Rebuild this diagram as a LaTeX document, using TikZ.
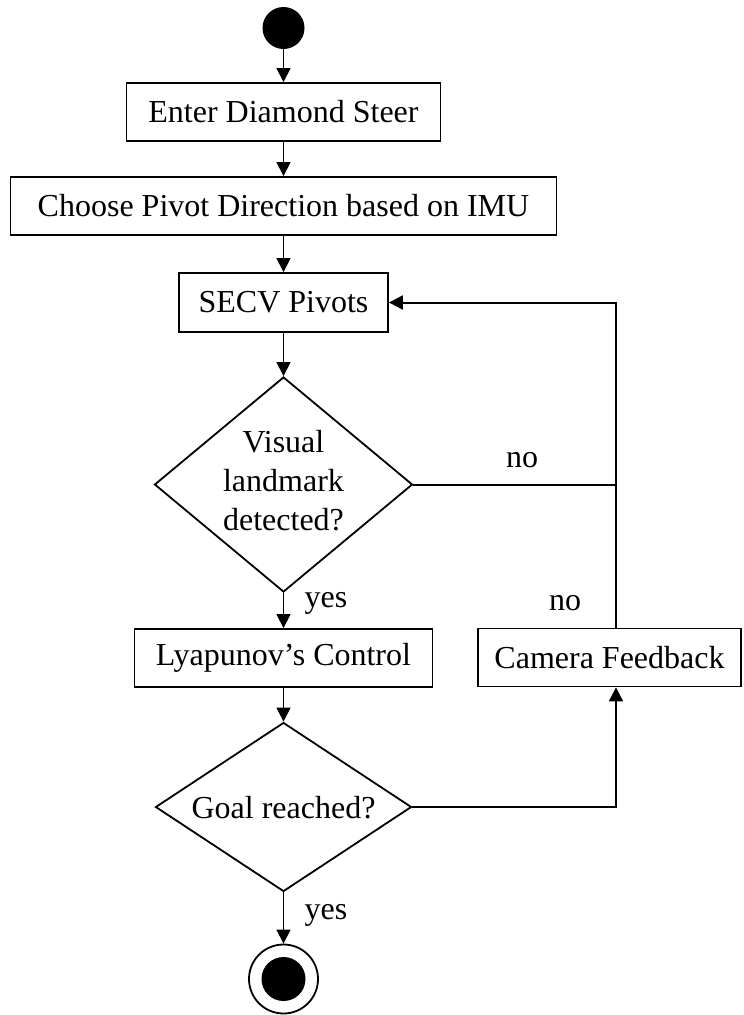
\documentclass[tikz,border=0pt]{standalone}
\usepackage{fontspec}
\setmainfont{Liberation Serif}
\usetikzlibrary{shapes.geometric,arrows.meta}
\begin{document}
\begin{tikzpicture}[x=1pt,y=-1pt,
  >={Triangle[length=14pt,width=14pt]},
  every node/.style={font=\fontsize{32}{39}\selectfont},
  box/.style={draw,line width=1.8pt,minimum height=58pt,inner sep=0pt,align=center},
  decision/.style={draw,diamond,line width=1.8pt,inner sep=0pt},
  flow/.style={line width=1.2pt,->},
  loopline/.style={line width=2pt},
  edgetext/.style={inner sep=0pt}]
\useasboundingbox (0,0) rectangle (744,1015);

% activity nodes
\node[circle,fill=black,minimum size=42pt,inner sep=0pt] (start) at (283.5,28) {};
\node[box,minimum width=314pt] (enter) at (283.5,112) {Enter Diamond Steer};
\node[box,minimum width=546pt] (choose) at (283.5,206) {Choose Pivot Direction based on IMU};
\node[box,minimum width=209pt,minimum height=59pt] (secv) at (283.5,302.5) {SECV Pivots};
\node[decision,minimum width=258pt,minimum height=215pt] (visual) at (283.5,484.5) {};
\node[align=center,inner sep=0pt] (visualtext) at (283.5,481) {Visual\\landmark\\detected?};
\node[box,minimum width=298pt] (lyap) at (283.5,658) {Lyapunov’s Control};
\node[box,minimum width=263pt] (cam) at (609.5,657.5) {Camera Feedback};
\node[decision,minimum width=256pt,minimum height=169pt] (goal) at (283.5,807) {};
\node[inner sep=0pt] (goaltext) at (283.5,808) {Goal reached?};
\node[circle,draw,line width=1.8pt,minimum size=69pt,inner sep=0pt] (stop) at (283.5,979) {};
\node[circle,fill=black,minimum size=44pt,inner sep=0pt] (stopdot) at (stop) {};

% main flow
\draw[flow] (start) -- (enter);
\draw[flow] (enter) -- (choose);
\draw[flow] (choose) -- (secv);
\draw[flow] (secv) -- (visual);
\draw[flow] (visual) -- (lyap);
\draw[flow] (lyap) -- (goal);
\draw[flow] (goal) -- (stop);

% feedback loop on the right
\coordinate (rail) at (616,302.5);
\draw[loopline] (visual.east) -- (visual.east -| rail);
\draw[loopline,->] (cam.north -| rail) -- (rail) -- (secv.east);
\draw[loopline,->] (goal.east) -- (goal.east -| rail) -- (cam.south -| rail);

% branch labels
\node[edgetext] (no1) at (522,460.5) {no};
\node[edgetext] (yes1) at (326,603) {yes};
\node[edgetext] (no2) at (565,603.5) {no};
\node[edgetext] (yes2) at (326,915.5) {yes};
\end{tikzpicture}
\end{document}
